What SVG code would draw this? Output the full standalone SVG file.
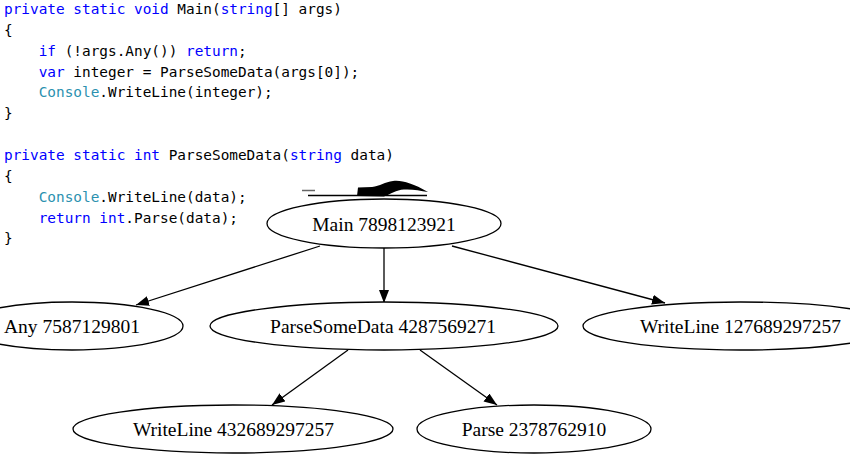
<svg xmlns="http://www.w3.org/2000/svg" width="850" height="462" viewBox="0 0 850 462">
  <style>
    .code { font-family: "DejaVu Sans Mono", "Liberation Mono", monospace; font-size: 14.4px; fill: #000000; }
    .kw { fill: #0000ff; }
    .ty { fill: #2b91af; }
    .node ellipse { fill: #ffffff; stroke: #000000; stroke-width: 1.3; }
    .node text { font-family: "Liberation Serif", "Times New Roman", serif; font-size: 19.5px; fill: #000000; text-anchor: middle; }
    .edge { fill: none; stroke: #000000; stroke-width: 1.3; marker-end: url(#arrow); }
  </style>
  <defs>
    <marker id="arrow" viewBox="0 0 13 10" refX="13" refY="5" markerWidth="13" markerHeight="10" markerUnits="userSpaceOnUse" orient="auto">
      <path d="M0,0 L13,5 L0,10 Z" fill="#000000"/>
    </marker>
  </defs>
  <rect x="0" y="0" width="850" height="462" fill="#ffffff"/>

  <g id="code">
    <text class="code" x="4" y="14"><tspan class="kw">private</tspan> <tspan class="kw">static</tspan> <tspan class="kw">void</tspan> Main(<tspan class="kw">string</tspan>[] args)</text>
    <text class="code" x="4" y="35">{</text>
    <text class="code" x="38.7" y="55.7"><tspan class="kw">if</tspan> (!args.Any()) <tspan class="kw">return</tspan>;</text>
    <text class="code" x="38.7" y="76.5"><tspan class="kw">var</tspan> integer = ParseSomeData(args[0]);</text>
    <text class="code" x="38.7" y="97.4"><tspan class="ty">Console</tspan>.WriteLine(integer);</text>
    <text class="code" x="4" y="118.2">}</text>
    <text class="code" x="4" y="160"><tspan class="kw">private</tspan> <tspan class="kw">static</tspan> <tspan class="kw">int</tspan> ParseSomeData(<tspan class="kw">string</tspan> data)</text>
    <text class="code" x="4" y="180.8">{</text>
    <text class="code" x="38.7" y="201.7"><tspan class="ty">Console</tspan>.WriteLine(data);</text>
    <text class="code" x="38.7" y="222.5"><tspan class="kw">return</tspan> <tspan class="kw">int</tspan>.Parse(data);</text>
    <text class="code" x="4" y="243.4">}</text>
  </g>

  <g id="scribble">
    <line x1="302" y1="190.5" x2="315" y2="190.5" stroke="#666666" stroke-width="1.5"/>
    <line x1="308" y1="195.5" x2="427" y2="195.5" stroke="#000000" stroke-width="1.5"/>
    <path d="M357,196 L358,187.5 L372,187 C380,186 385,182 393,181 C402,180 412,183 428,192 C420,190.5 412,189 404,189.5 C396,190 391,194 384,196.5 Z" fill="#000000"/>
  </g>

  <g id="connectors">
    <path class="edge" d="M320,246 L136,305"/>
    <path class="edge" d="M384,248 L384,303"/>
    <path class="edge" d="M452,246 L665,303"/>
    <path class="edge" d="M348,350 L272,405"/>
    <path class="edge" d="M420,350 L497,405"/>
  </g>

  <g id="main" class="node">
    <ellipse cx="384" cy="223.5" rx="117" ry="24.5"/>
    <text x="384" y="231">Main 7898123921</text>
  </g>
  <g id="any" class="node">
    <ellipse cx="72" cy="326" rx="111" ry="24"/>
    <text x="72" y="333">Any 7587129801</text>
  </g>
  <g id="parsesomedata" class="node">
    <ellipse cx="384" cy="326" rx="174" ry="24"/>
    <text x="383" y="333">ParseSomeData 4287569271</text>
  </g>
  <g id="writeline1" class="node">
    <ellipse cx="740.5" cy="326" rx="157.5" ry="24"/>
    <text x="740.5" y="333">WriteLine 127689297257</text>
  </g>
  <g id="writeline2" class="node">
    <ellipse cx="233" cy="429" rx="160" ry="24"/>
    <text x="233.5" y="436">WriteLine 432689297257</text>
  </g>
  <g id="parse" class="node">
    <ellipse cx="534" cy="429" rx="117" ry="24"/>
    <text x="534" y="436">Parse 2378762910</text>
  </g>
</svg>
